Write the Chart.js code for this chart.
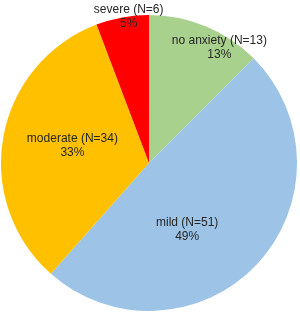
<!DOCTYPE html>
<html>
<head>
<meta charset="utf-8">
<script src="https://cdn.jsdelivr.net/npm/chart.js@4"></script>
<style>
  html, body { margin: 0; padding: 0; background: #fff; }
  #wrap { width: 300px; height: 313px; position: relative; }
</style>
</head>
<body>
<div id="wrap"><canvas id="c"></canvas></div>
<script>
const categories = ['no anxiety', 'mild', 'moderate', 'severe'];
const counts = [13, 51, 34, 6];
const percentLabels = ['13%', '49%', '33%', '5%'];
const colors = ['#a9d18e', '#9dc3e6', '#ffc000', '#ff0000'];

// where each label sits: angle shift (deg) from the slice middle, and fraction of radius
const labelPlace = [
  { shift: 9, frac: 0.91 },
  { shift: 17, frac: 0.52 },
  { shift: 2, frac: 0.53 },
  { shift: 2.5, frac: 1.0 },
];

const sliceLabels = {
  id: 'sliceLabels',
  afterDatasetsDraw(chart) {
    const ctx = chart.ctx;
    const meta = chart.getDatasetMeta(0);
    ctx.save();
    ctx.font = '12px "Liberation Sans", Arial, sans-serif';
    ctx.fillStyle = '#262626';
    ctx.textAlign = 'center';
    ctx.textBaseline = 'middle';
    meta.data.forEach((arc, i) => {
      const p = arc.getProps(['x', 'y', 'startAngle', 'endAngle', 'outerRadius'], true);
      const a = (p.startAngle + p.endAngle) / 2 + labelPlace[i].shift * Math.PI / 180;
      const r = p.outerRadius * labelPlace[i].frac;
      const x = p.x + Math.cos(a) * r;
      const y = p.y + Math.sin(a) * r;
      ctx.fillText(`${categories[i]} (N=${counts[i]})`, x, y - 7);
      ctx.fillText(percentLabels[i], x, y + 7);
    });
    ctx.restore();
  },
};

new Chart(document.getElementById('c'), {
  type: 'pie',
  data: {
    labels: categories,
    datasets: [{ data: counts, backgroundColor: colors, borderWidth: 0 }],
  },
  options: {
    responsive: true,
    maintainAspectRatio: false,
    animation: false,
    layout: { padding: { left: 1, right: 3, top: 15, bottom: 2 } },
    plugins: { legend: { display: false }, tooltip: { enabled: false } },
  },
  plugins: [sliceLabels],
});
</script>
</body>
</html>
